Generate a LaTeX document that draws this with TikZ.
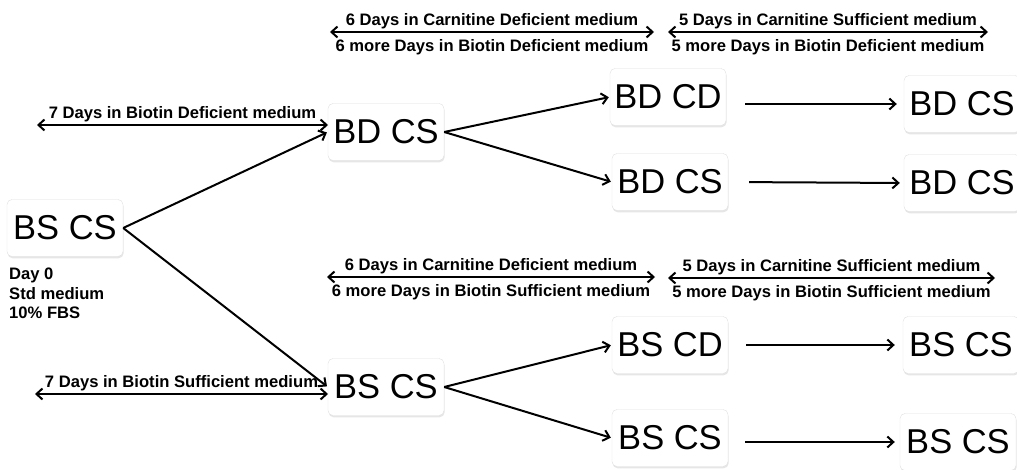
\documentclass[tikz,border=0pt]{standalone}
\usepackage{fontspec}
\setmainfont{Liberation Sans}
\usetikzlibrary{positioning,calc,arrows.meta,shadows}

\begin{document}
\begin{tikzpicture}[x=1pt,y=-1pt,
	cellbox/.style={draw=black!12, fill=white, rounded corners=5pt, minimum width=116pt, minimum height=57pt, inner sep=0pt, font=\fontsize{34.5}{36}\selectfont, drop shadow={opacity=0.2, shadow xshift=0.6pt, shadow yshift=-1.8pt}},
	link/.style={line width=2pt, shorten >=1pt, -{Straight Barb[length=6pt,width=11pt]}},
	span/.style={line width=2pt, {Straight Barb[length=6pt,width=11pt]}-{Straight Barb[length=6pt,width=11pt]}},
	lbl/.style={font=\fontsize{16.6}{18}\selectfont\bfseries, inner sep=1pt}]
								\useasboundingbox (0,0) rectangle (1017,470);
								\clip (0,0) rectangle (1017,470);
								
								% start
								\node[cellbox] (root) at (65,228) {BS CS};
								\node[lbl, anchor=north west, align=left, font=\fontsize{16.6}{19.5}\selectfont\bfseries] (day) at (8,267) {Day 0\\Std medium\\10\% FBS};
								
								% biotin deficient branch
								\node[cellbox] (bdcs) at (386,132) {BD CS};
								\node[cellbox] (bdcd) at (668,97) {BD CD};
								\node[cellbox] (bdcsB) at (670,182) {BD CS};
								\node[cellbox] (bdcsC) at (962,104) {BD CS};
								\node[cellbox] (bdcsD) at (962,183) {BD CS};
								
								% biotin sufficient branch
								\node[cellbox] (bscs) at (386,387) {BS CS};
								\node[cellbox] (bscd) at (670,345) {BS CD};
								\node[cellbox] (bscsB) at (670,438) {BS CS};
								\node[cellbox] (bscsC) at (961,345) {BS CS};
								\node[cellbox] (bscsD) at (958,442) {BS CS};
								
								% spans
								\coordinate (bdL) at (37,125);   \coordinate (bdR) at (328,125);
								\coordinate (bsL) at (35,394);   \coordinate (bsR) at (328,394);
								\coordinate (t1L) at (330,32);   \coordinate (t1R) at (654,32);
								\coordinate (t2L) at (668,32);   \coordinate (t2R) at (988,32);
								\coordinate (m1L) at (327,277);  \coordinate (m1R) at (655,277);
								\coordinate (m2L) at (668,278);  \coordinate (m2R) at (995,278);
								
								\draw[span] (bdL) -- node[lbl, above=1pt] {7 Days in Biotin Deficient medium} (bdR);
								\draw[span] (bsL) -- node[lbl, above=1pt] {7 Days in Biotin Sufficient medium} (bsR);
								\draw[span] (t1L) -- node[lbl, above=1pt] {6 Days in Carnitine Deficient medium} node[lbl, below=5pt] {6 more Days in Biotin Deficient medium} (t1R);
								\draw[span] (t2L) -- node[lbl, above=1pt] {5 Days in Carnitine Sufficient medium} node[lbl, below=5pt] {5 more Days in Biotin Deficient medium} (t2R);
								\draw[span] (m1L) -- node[lbl, above=1pt] {6 Days in Carnitine Deficient medium} node[lbl, below=5pt] {6 more Days in Biotin Sufficient medium} (m1R);
								\draw[span] (m2L) -- node[lbl, above=1pt] {5 Days in Carnitine Sufficient medium} node[lbl, below=5pt] {5 more Days in Biotin Sufficient medium} (m2R);
								
								% branches
								\draw[link] (root.east) -- (bdcs.west);
								\draw[link] (root.east) -- (bscs.west);
								\draw[link] (bdcs.east) -- (bdcd.west);
								\draw[link] (bdcs.east) -- (bdcsB.west);
								\draw[link] (bscs.east) -- (bscd.west);
								\draw[link] (bscs.east) -- (bscsB.west);
								
								% carnitine restored
								\draw[link, shorten <=19pt, shorten >=7pt] (bdcd.east |- bdcsC.west) -- (bdcsC.west);
								\draw[link, shorten <=21pt, shorten >=4pt] (bdcsB.east) -- (bdcsD.west);
								\draw[link, shorten <=18pt, shorten >=8pt] (bscd.east) -- (bscsC.west);
								\draw[link, shorten <=17pt, shorten >=5pt] (bscsB.east |- bscsD.west) -- (bscsD.west);
\end{tikzpicture}
\end{document}
